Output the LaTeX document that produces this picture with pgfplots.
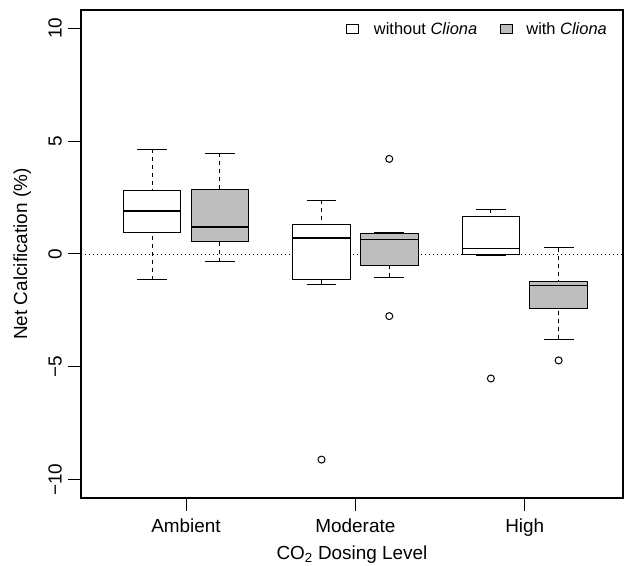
\documentclass[border=0pt]{standalone}
\usepackage{pgfplots}
\pgfplotsset{compat=1.18}
\usepgfplotslibrary{statistics}
\usepackage{fontspec}
\setmainfont{Liberation Sans}
\definecolor{rgrey}{HTML}{BEBEBE}

% R-style box: dashed whiskers, solid caps, thick median
\pgfplotsset{
  rbox/.style={
    black, solid, line width=1bp,
    mark=o, mark size=3.5bp, mark options={solid, line width=1bp},
    boxplot/draw direction=y,
    boxplot/box extend=0.85,
    boxplot/whisker extend=0.44,
    boxplot/draw/lower whisker/.code={
      \draw[dash pattern=on 4bp off 4bp]
        (boxplot box cs:\pgfplotsboxplotvalue{lower whisker},0.5) --
        (boxplot box cs:\pgfplotsboxplotvalue{lower quartile},0.5);
      \draw (boxplot whisker cs:\pgfplotsboxplotvalue{lower whisker},0) --
        (boxplot whisker cs:\pgfplotsboxplotvalue{lower whisker},1);
    },
    boxplot/draw/upper whisker/.code={
      \draw[dash pattern=on 4bp off 4bp]
        (boxplot box cs:\pgfplotsboxplotvalue{upper whisker},0.5) --
        (boxplot box cs:\pgfplotsboxplotvalue{upper quartile},0.5);
      \draw (boxplot whisker cs:\pgfplotsboxplotvalue{upper whisker},0) --
        (boxplot whisker cs:\pgfplotsboxplotvalue{upper whisker},1);
    },
    boxplot/draw/median/.code={
      \draw[line width=1.4bp]
        (boxplot box cs:\pgfplotsboxplotvalue{median},0) --
        (boxplot box cs:\pgfplotsboxplotvalue{median},1);
    },
  },
}

\begin{document}
\begin{tikzpicture}
\useasboundingbox (-81bp,-68bp) rectangle (543bp,498bp);
\begin{axis}[
    at={(0,0)}, anchor=south west,
    scale only axis, width=542bp, height=488bp,
    xmin=-0.05, xmax=7.95,
    ymin=-10.8, ymax=10.8,
    xtick={1.5,4,6.5},
    xticklabels={Ambient,Moderate,High},
    ytick={-10,-5,0,5,10},
    yticklabels={−10,−5,0,5,10},
    xtick pos=bottom, ytick pos=left,
    tick align=outside,
    major tick length=12.7bp,
    tick style={black, line width=1bp},
    axis line style={line width=1.2bp},
    tick label style={font=\fontsize{19}{22}\selectfont},
    xticklabel style={anchor=base, inner sep=0pt},
    yticklabel style={rotate=90, anchor=base, inner sep=0pt},
    xticklabel shift=22bp,
    yticklabel shift=6.6bp,
    xlabel={CO\textsubscript{2} Dosing Level},
    ylabel={Net Calcification (\%)},
    label style={font=\fontsize{19}{22}\selectfont, inner sep=0pt},
    xlabel style={at={(axis description cs:0.5,-0.125)}, anchor=base},
    ylabel style={at={(axis description cs:-0.0996,0.5)}, anchor=base},
    legend style={draw=none, fill=none, at={(1,1)}, anchor=north east,
      xshift=-16bp, yshift=-12bp, inner sep=0pt,
      font=\fontsize{16.5}{18}\selectfont,
      nodes={inner sep=0pt},
      /tikz/every even column/.append style={column sep=22.7bp}},
    legend columns=-1,
    legend cell align=left,
  ]
\addplot[black, line width=0.8bp, dash pattern=on 1bp off 3bp, forget plot]
  coordinates {(-0.05,0) (7.95,0)};

% Ambient
\addplot[rbox, fill=white, forget plot, boxplot prepared={draw position=1,
  lower whisker=-1.15, lower quartile=0.97, median=1.91,
  upper quartile=2.79, upper whisker=4.64}] coordinates {};
\addplot[rbox, fill=rgrey, forget plot, boxplot prepared={draw position=2,
  lower whisker=-0.34, lower quartile=0.55, median=1.20,
  upper quartile=2.87, upper whisker=4.47}] coordinates {};
% Moderate
\addplot[rbox, fill=white, forget plot, boxplot prepared={draw position=3.5,
  lower whisker=-1.33, lower quartile=-1.15, median=0.70,
  upper quartile=1.30, upper whisker=2.38}] coordinates {(0,-9.10)};
\addplot[rbox, fill=rgrey, forget plot, boxplot prepared={draw position=4.5,
  lower whisker=-1.03, lower quartile=-0.50, median=0.64,
  upper quartile=0.89, upper whisker=0.93}] coordinates {(0,4.21) (0,-2.75)};
% High
\addplot[rbox, fill=white, forget plot, boxplot prepared={draw position=6,
  lower whisker=-0.06, lower quartile=-0.03, median=0.24,
  upper quartile=1.64, upper whisker=1.99}] coordinates {(0,-5.51)};
\addplot[rbox, fill=rgrey, forget plot, boxplot prepared={draw position=7,
  lower whisker=-3.78, lower quartile=-2.42, median=-1.40,
  upper quartile=-1.21, upper whisker=0.27}] coordinates {(0,-4.71)};

\addlegendimage{legend image code/.code={
  \draw[fill=white, line width=1bp] (0bp,-4.5bp) rectangle (12bp,4.5bp);
  \path[draw=none, fill=none] (0bp,0bp) -- (27bp,0bp);}}
\addlegendentry{without \textit{Cliona}}
\addlegendimage{legend image code/.code={
  \draw[fill=rgrey, line width=1bp] (0bp,-4.5bp) rectangle (12bp,4.5bp);
  \path[draw=none, fill=none] (0bp,0bp) -- (26bp,0bp);}}
\addlegendentry{with \textit{Cliona}}
\end{axis}
\end{tikzpicture}
\end{document}
